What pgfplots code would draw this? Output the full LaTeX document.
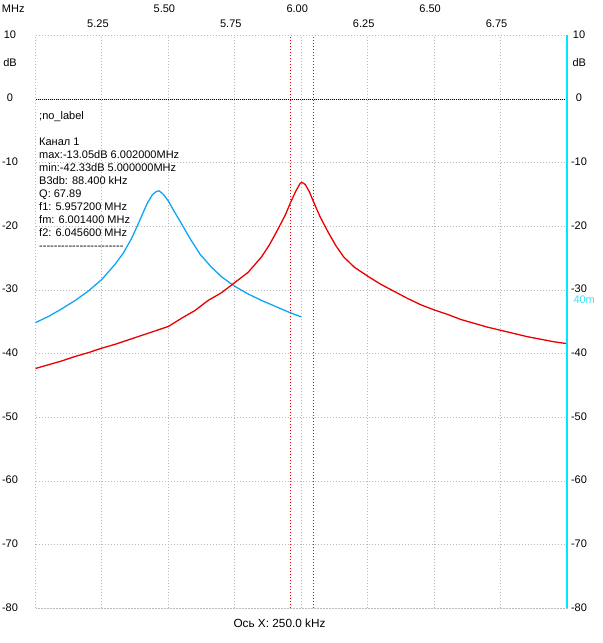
\documentclass[border=0pt]{standalone}
\usepackage{fontspec}
\setmainfont{Liberation Sans}
\usepackage{pgfplots}
\pgfplotsset{compat=1.18}
\definecolor{gridgray}{RGB}{185,185,185}
\definecolor{cred}{RGB}{235,0,0}
\definecolor{cdot}{RGB}{255,0,0}
\definecolor{cblue}{RGB}{17,165,245}
\definecolor{ccyan}{RGB}{0,230,255}
\definecolor{ctext}{RGB}{60,225,255}
\newcommand\tf{\fontsize{11}{13}\selectfont}
\begin{document}
\begin{tikzpicture}[font=\tf]
\begin{axis}[
 name=main,
 scale only axis, width=531.5pt, height=573pt,
 xmin=5, xmax=7, ymin=-80, ymax=10,
 clip=false,
 axis line style={draw=gridgray, line width=1pt, dash pattern=on 1pt off 2pt},
 major tick length=0pt,
 xtick={5.25,5.75,6.25,6.75},
 xticklabels={5.25,5.75,6.25,6.75},
 extra x ticks={5.5,6.0,6.5},
 extra x tick labels={5.50,6.00,6.50},
 extra x tick style={grid=major, xticklabel style={yshift=15.5pt}},
 xticklabel pos=upper,
 xticklabel style={anchor=center, yshift=11.7pt, xshift=-4pt, font=\tf},
 ytick={-80,-70,...,10},
 yticklabels={-80,-70,-60,-50,-40,-30,-20,-10,0,10},
 yticklabel style={anchor=center, xshift=-25.5pt, yshift=1pt, font=\tf},
 grid=major,
 major grid style={draw=gridgray, line width=1pt, dash pattern=on 1pt off 2pt},
]
\addplot[black, line width=1pt, dash pattern=on 1pt off 1pt] coordinates {(5,-0.05)(7,-0.05)};
\addplot[draw=cdot, line width=1pt, dash pattern=on 1pt off 2pt] coordinates {(5.9596,-80)(5.9596,10)};
\addplot[draw=cdot, line width=1pt, dash pattern=on 1pt off 2pt] coordinates {(6.0461,-80)(6.0461,10)};
% blue trace
\addplot[cblue, line width=1.3pt] coordinates {
(5.00,-35.1)(5.05,-34.1)(5.10,-32.9)(5.15,-31.6)(5.20,-30.1)(5.25,-28.3)
(5.30,-25.9)(5.33,-24.2)(5.36,-22.0)(5.38,-20.2)(5.40,-18.3)(5.42,-16.4)
(5.44,-15.0)(5.455,-14.5)(5.465,-14.4)(5.48,-14.9)(5.50,-16.0)(5.52,-17.5)
(5.55,-19.6)(5.58,-21.8)(5.62,-24.4)(5.66,-26.3)(5.70,-27.9)(5.75,-29.4)
(5.80,-30.6)(5.85,-31.6)(5.90,-32.5)(5.95,-33.4)(6.00,-34.2)};
% red trace
\addplot[cred, line width=1.3pt] coordinates {
(5.00,-42.3)(5.05,-41.7)(5.10,-41.1)(5.15,-40.4)(5.20,-39.8)(5.25,-39.1)
(5.30,-38.5)(5.35,-37.8)(5.40,-37.1)(5.45,-36.4)(5.50,-35.7)(5.55,-34.4)
(5.60,-33.2)(5.65,-31.6)(5.70,-30.4)(5.75,-28.8)(5.80,-27.2)(5.85,-24.8)
(5.88,-22.9)(5.91,-20.6)(5.94,-18.2)(5.96,-16.2)(5.98,-14.4)(5.995,-13.3)
(6.002,-13.05)(6.015,-13.4)(6.03,-14.5)(6.046,-16.1)(6.07,-18.4)(6.10,-20.8)
(6.13,-23.0)(6.16,-24.8)(6.20,-26.4)(6.25,-27.8)(6.30,-29.1)(6.35,-30.2)
(6.40,-31.3)(6.45,-32.3)(6.50,-33.1)(6.55,-33.8)(6.60,-34.6)(6.65,-35.2)
(6.70,-35.8)(6.75,-36.3)(6.80,-36.8)(6.85,-37.3)(6.90,-37.7)(6.95,-38.1)
(7.00,-38.4)};
% texts
\begin{scope}[every node/.style={inner sep=0pt}]
\node[anchor=base west] at (axis cs:4.8728,13.61) {MHz};
\node[anchor=base] at (axis cs:4.904,5.10) {dB};
\node[anchor=base] at (axis cs:7.0463,5.10) {dB};
\node[anchor=base west, text=ctext] at (axis cs:7.0237,-32.06) {40m};
\node[anchor=base west, font=\fontsize{11.8}{13}\selectfont] at (axis cs:5.7443,-82.98) {Ось X: 250.0 kHz};
\node[anchor=base west] at (axis cs:5.0132,-3.16) {;no\_label};
\node[anchor=base west] at (axis cs:5.0132,-7.23) {Канал 1};
\node[anchor=base west] at (axis cs:5.0132,-9.27) {max:-13.05dB 6.002000MHz};
\node[anchor=base west] at (axis cs:5.0132,-11.31) {min:-42.33dB 5.000000MHz};
\node[anchor=base west] at (axis cs:5.0132,-13.35) {B3db: 88.400 kHz};
\node[anchor=base west] at (axis cs:5.0132,-15.40) {Q: 67.89};
\node[anchor=base west] at (axis cs:5.0132,-17.44) {f1: 5.957200 MHz};
\node[anchor=base west] at (axis cs:5.0132,-19.48) {fm: 6.001400 MHz};
\node[anchor=base west] at (axis cs:5.0132,-21.52) {f2: 6.045600 MHz};
\node[anchor=base west] at (axis cs:5.0132,-23.56) {-{}-{}-{}-{}-{}-{}-{}-{}-{}-{}-{}-{}-{}-{}-{}-{}-{}-{}-{}-{}-{}-{}-};
\end{scope}
\end{axis}
\begin{axis}[
 at={(main.south west)}, anchor=south west,
 scale only axis, width=531.5pt, height=573pt,
 xmin=5, xmax=7, ymin=-80, ymax=10,
 hide x axis, axis y line*=right,
 y axis line style={draw=ccyan, line width=2pt, -},
 major tick length=0pt,
 ytick={-80,-70,...,10},
 yticklabels={-80,-70,-60,-50,-40,-30,-20,-10,0,10},
 yticklabel style={anchor=center, xshift=12pt, yshift=1pt, font=\tf},
]
\addplot[draw=none] coordinates {(5,0)(7,0)};
\end{axis}
\pgfresetboundingbox
\path[use as bounding box] ([xshift=-35.5pt,yshift=-34.5pt]main.south west) rectangle ([xshift=35pt,yshift=35.5pt]main.north east);
\end{tikzpicture}
\end{document}
